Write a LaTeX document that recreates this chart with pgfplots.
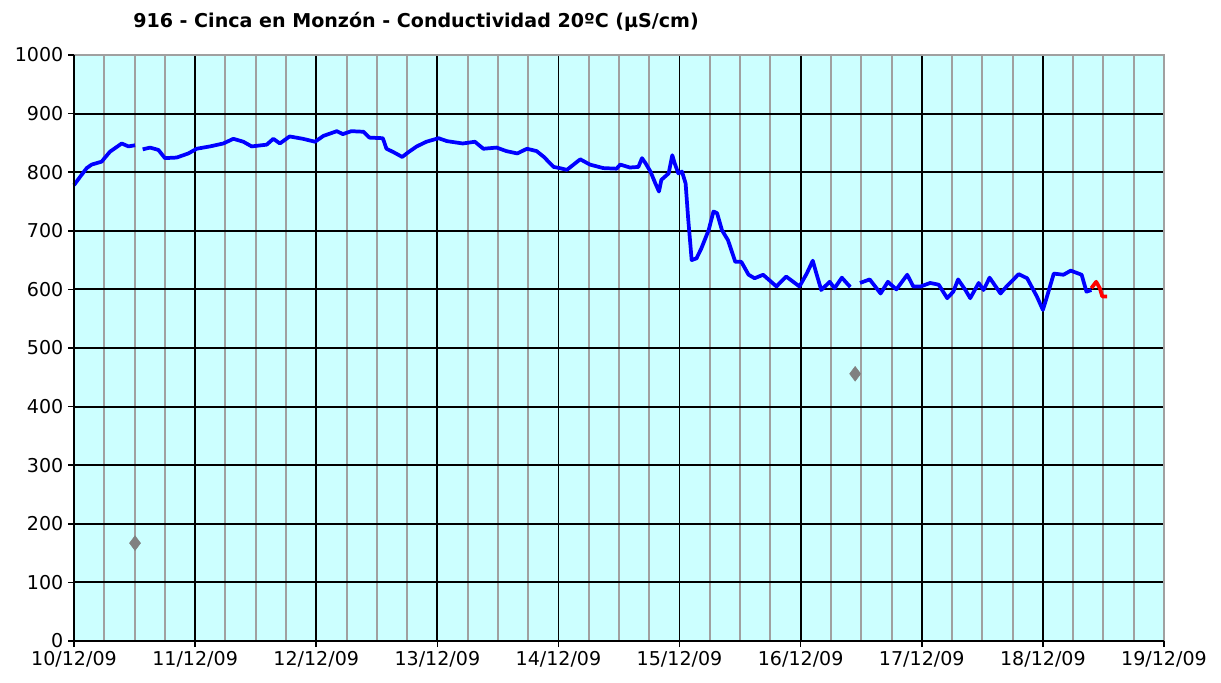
\documentclass[border=0pt]{standalone}
\usepackage{fontspec}
\setmainfont{DejaVu Sans}
\usepackage{pgfplots}
\pgfplotsset{compat=1.18}
\definecolor{bgcyan}{RGB}{204,255,255}
\definecolor{gridgray}{RGB}{160,160,160}
\definecolor{ptgray}{RGB}{128,128,128}
\begin{document}
\begin{tikzpicture}
\path[use as bounding box] (-55.5pt,-30.75pt) rectangle (860.25pt,480.75pt);
\begin{axis}[
  scale only axis,
  width=817.5pt, height=439.5pt,
  xmin=0, xmax=9, ymin=0, ymax=1000,
  xtick={0,1,...,9},
  xticklabels={10/12/09,11/12/09,12/12/09,13/12/09,14/12/09,15/12/09,16/12/09,17/12/09,18/12/09,19/12/09},
  minor x tick num=3,
  ytick={0,100,...,1000},
  axis background/.style={fill=bgcyan},
  axis line style={draw=none},
  xmajorgrids, xminorgrids, ymajorgrids,
  major grid style={black, line width=1.4pt},
  minor grid style={gridgray, line width=1.5pt},
  tick align=outside,
  xtick pos=bottom, ytick pos=left,
  major tick length=4.5pt, minor tick length=0pt,
  tick style={black, line width=1.2pt},
  ticklabel style={font=\fontsize{14.3pt}{16pt}\selectfont},
  /pgf/number format/assume math mode=true,
  /pgf/number format/set thousands separator={},
  clip=false,
]
\addplot[blue, line width=2.8pt, line join=round] coordinates {
(0,778)(0.05,792)(0.105,807)(0.146,813)(0.228,818)(0.297,835)(0.394,849)(0.45,844)(0.504,846)
};
\addplot[blue, line width=2.8pt, line join=round] coordinates {
(0.567,839)(0.628,842)(0.697,838)(0.751,824)(0.848,825)(0.944,832)(1.013,840)(1.123,844)(1.233,849)(1.316,857)
(1.398,852)(1.467,844)(1.591,847)(1.646,857)(1.70,849)(1.78,861)(1.89,857)(1.99,852)(2.06,862)(2.17,870)
(2.22,865)(2.29,870)(2.39,869)(2.44,859)(2.55,858)(2.58,840)(2.64,834)(2.71,826)(2.76,834)(2.83,844)
(2.91,852)(3.01,858)(3.08,853)(3.21,849)(3.31,852)(3.38,840)(3.49,842)(3.57,836)(3.66,832)(3.74,840)
(3.82,836)(3.88,826)(3.96,809)(4.01,807)(4.07,804)(4.18,822)(4.26,813)(4.37,807)(4.48,806)(4.51,813)
(4.59,808)(4.66,809)(4.69,824)(4.72,815)(4.76,801)(4.80,781)(4.83,767)(4.85,787)(4.91,798)(4.94,829)
(4.96,815)(4.99,798)(5.02,801)(5.05,781)(5.07,724)(5.10,650)(5.14,653)(5.18,670)(5.24,701)(5.28,733)
(5.31,730)(5.35,701)(5.40,684)(5.46,647)(5.51,647)(5.57,625)(5.62,619)(5.69,625)(5.80,605)(5.88,622)
(5.99,605)(6.05,627)(6.10,649)(6.13,627)(6.17,599)(6.24,613)(6.28,602)(6.34,620)(6.41,604)
};
\addplot[blue, line width=2.8pt, line join=round] coordinates {
(6.49,611)(6.57,617)(6.66,593)(6.72,613)(6.79,600)(6.88,625)(6.93,605)(6.99,605)(7.07,611)(7.14,608)
(7.21,585)(7.26,596)(7.30,617)(7.36,599)(7.40,585)(7.47,611)(7.51,599)(7.56,620)(7.65,593)(7.70,605)
(7.80,626)(7.87,619)(7.95,588)(8.00,565)(8.03,585)(8.09,627)(8.17,625)(8.23,632)(8.32,625)(8.36,596)(8.40,599)
};
\addplot[red, line width=2.8pt, line join=round] coordinates {
(8.40,602)(8.44,613)(8.47,602)(8.49,588)(8.53,588)
};
\addplot[only marks, mark=diamond*, mark size=5.5pt, color=ptgray] coordinates {
(0.504,167)(6.45,456)
};
\draw[gridgray, line width=1.5pt] (rel axis cs:0,1) -- (rel axis cs:1,1) -- (rel axis cs:1,0);
\draw[black, line width=1.4pt] (rel axis cs:0,1) -- (rel axis cs:0,0) -- (rel axis cs:1,0);
\end{axis}
\node[font=\fontsize{14.3pt}{16pt}\selectfont\bfseries] at (256.5pt,464.25pt) {916 - Cinca en Monzón - Conductividad 20ºC (µS/cm)};
\end{tikzpicture}
\end{document}
